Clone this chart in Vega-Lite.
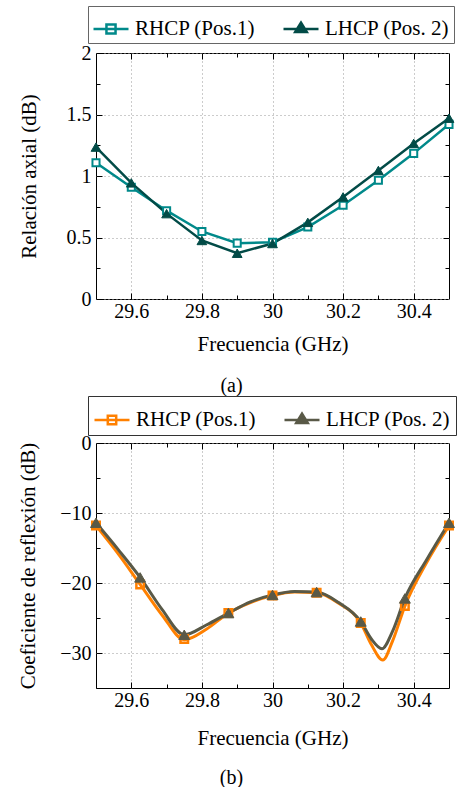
{
  "$schema": "https://vega.github.io/schema/vega-lite/v6.json",
  "padding": {"left": 17, "top": 5, "right": 0, "bottom": 0},
  "background": "white",
  "datasets": {
    "top": [
      {"f": 29.5, "v": 1.107, "s": "RHCP (Pos.1)"},
      {"f": 29.6, "v": 0.908, "s": "RHCP (Pos.1)"},
      {"f": 29.7, "v": 0.718, "s": "RHCP (Pos.1)"},
      {"f": 29.8, "v": 0.549, "s": "RHCP (Pos.1)"},
      {"f": 29.9, "v": 0.454, "s": "RHCP (Pos.1)"},
      {"f": 30.0, "v": 0.462, "s": "RHCP (Pos.1)"},
      {"f": 30.1, "v": 0.585, "s": "RHCP (Pos.1)"},
      {"f": 30.2, "v": 0.762, "s": "RHCP (Pos.1)"},
      {"f": 30.3, "v": 0.966, "s": "RHCP (Pos.1)"},
      {"f": 30.4, "v": 1.184, "s": "RHCP (Pos.1)"},
      {"f": 30.5, "v": 1.42, "s": "RHCP (Pos.1)"},
      {"f": 29.5, "v": 1.235, "s": "LHCP (Pos. 2)"},
      {"f": 29.6, "v": 0.944, "s": "LHCP (Pos. 2)"},
      {"f": 29.7, "v": 0.694, "s": "LHCP (Pos. 2)"},
      {"f": 29.8, "v": 0.476, "s": "LHCP (Pos. 2)"},
      {"f": 29.9, "v": 0.372, "s": "LHCP (Pos. 2)"},
      {"f": 30.0, "v": 0.451, "s": "LHCP (Pos. 2)"},
      {"f": 30.1, "v": 0.623, "s": "LHCP (Pos. 2)"},
      {"f": 30.2, "v": 0.83, "s": "LHCP (Pos. 2)"},
      {"f": 30.3, "v": 1.045, "s": "LHCP (Pos. 2)"},
      {"f": 30.4, "v": 1.265, "s": "LHCP (Pos. 2)"},
      {"f": 30.5, "v": 1.47, "s": "LHCP (Pos. 2)"}
    ],
    "bcurve": [
      {"f": 29.5, "v": -11.8, "s": "RHCP (Pos.1)"},
      {"f": 29.5625, "v": -15.8, "s": "RHCP (Pos.1)"},
      {"f": 29.625, "v": -20.2, "s": "RHCP (Pos.1)"},
      {"f": 29.6875, "v": -24.6, "s": "RHCP (Pos.1)"},
      {"f": 29.75, "v": -28.1, "s": "RHCP (Pos.1)"},
      {"f": 29.8125, "v": -26.6, "s": "RHCP (Pos.1)"},
      {"f": 29.875, "v": -24.3, "s": "RHCP (Pos.1)"},
      {"f": 29.9375, "v": -22.8, "s": "RHCP (Pos.1)"},
      {"f": 30.0, "v": -21.8, "s": "RHCP (Pos.1)"},
      {"f": 30.0625, "v": -21.3, "s": "RHCP (Pos.1)"},
      {"f": 30.125, "v": -21.4, "s": "RHCP (Pos.1)"},
      {"f": 30.1875, "v": -22.9, "s": "RHCP (Pos.1)"},
      {"f": 30.25, "v": -25.7, "s": "RHCP (Pos.1)"},
      {"f": 30.28, "v": -28.8, "s": "RHCP (Pos.1)"},
      {"f": 30.3125, "v": -31.0, "s": "RHCP (Pos.1)"},
      {"f": 30.34, "v": -28.3, "s": "RHCP (Pos.1)"},
      {"f": 30.375, "v": -23.3, "s": "RHCP (Pos.1)"},
      {"f": 30.4375, "v": -17.0, "s": "RHCP (Pos.1)"},
      {"f": 30.5, "v": -11.8, "s": "RHCP (Pos.1)"},
      {"f": 29.5, "v": -11.4, "s": "LHCP (Pos. 2)"},
      {"f": 29.5625, "v": -15.2, "s": "LHCP (Pos. 2)"},
      {"f": 29.625, "v": -19.2, "s": "LHCP (Pos. 2)"},
      {"f": 29.6875, "v": -23.8, "s": "LHCP (Pos. 2)"},
      {"f": 29.75, "v": -27.4, "s": "LHCP (Pos. 2)"},
      {"f": 29.8125, "v": -26.0, "s": "LHCP (Pos. 2)"},
      {"f": 29.875, "v": -24.3, "s": "LHCP (Pos. 2)"},
      {"f": 29.9375, "v": -22.7, "s": "LHCP (Pos. 2)"},
      {"f": 30.0, "v": -21.7, "s": "LHCP (Pos. 2)"},
      {"f": 30.0625, "v": -21.2, "s": "LHCP (Pos. 2)"},
      {"f": 30.125, "v": -21.3, "s": "LHCP (Pos. 2)"},
      {"f": 30.1875, "v": -22.8, "s": "LHCP (Pos. 2)"},
      {"f": 30.25, "v": -25.5, "s": "LHCP (Pos. 2)"},
      {"f": 30.28, "v": -28.0, "s": "LHCP (Pos. 2)"},
      {"f": 30.31, "v": -29.4, "s": "LHCP (Pos. 2)"},
      {"f": 30.34, "v": -26.9, "s": "LHCP (Pos. 2)"},
      {"f": 30.375, "v": -22.2, "s": "LHCP (Pos. 2)"},
      {"f": 30.4375, "v": -16.6, "s": "LHCP (Pos. 2)"},
      {"f": 30.5, "v": -11.4, "s": "LHCP (Pos. 2)"}
    ],
    "bmark": [
      {"f": 29.5, "v": -11.8, "s": "RHCP (Pos.1)"},
      {"f": 29.625, "v": -20.2, "s": "RHCP (Pos.1)"},
      {"f": 29.75, "v": -28.0, "s": "RHCP (Pos.1)"},
      {"f": 29.875, "v": -24.3, "s": "RHCP (Pos.1)"},
      {"f": 30.0, "v": -21.8, "s": "RHCP (Pos.1)"},
      {"f": 30.125, "v": -21.4, "s": "RHCP (Pos.1)"},
      {"f": 30.25, "v": -25.7, "s": "RHCP (Pos.1)"},
      {"f": 30.375, "v": -23.3, "s": "RHCP (Pos.1)"},
      {"f": 30.5, "v": -11.8, "s": "RHCP (Pos.1)"},
      {"f": 29.5, "v": -11.4, "s": "LHCP (Pos. 2)"},
      {"f": 29.625, "v": -19.2, "s": "LHCP (Pos. 2)"},
      {"f": 29.75, "v": -27.4, "s": "LHCP (Pos. 2)"},
      {"f": 29.875, "v": -24.3, "s": "LHCP (Pos. 2)"},
      {"f": 30.0, "v": -21.7, "s": "LHCP (Pos. 2)"},
      {"f": 30.125, "v": -21.3, "s": "LHCP (Pos. 2)"},
      {"f": 30.25, "v": -25.5, "s": "LHCP (Pos. 2)"},
      {"f": 30.375, "v": -22.2, "s": "LHCP (Pos. 2)"},
      {"f": 30.5, "v": -11.4, "s": "LHCP (Pos. 2)"}
    ]
  },
  "spacing": -2,
  "resolve": {"scale": {"color": "independent", "y": "independent"}, "legend": {"color": "independent"}},
  "vconcat": [
    {
      "width": 353,
      "height": 246,
      "title": {"text": "(a)", "orient": "bottom", "anchor": "middle", "frame": "group", "dx": -41, "offset": 22, "font": "Liberation Serif, DejaVu Serif, serif", "fontSize": 20, "fontWeight": "normal"},
      "layer": [
        {
          "data": {"name": "top"},
          "mark": {"type": "line", "strokeWidth": 2.5},
          "encoding": {
            "x": {"field": "f", "type": "quantitative", "scale": {"domain": [29.5, 30.5], "nice": false, "zero": false},
              "axis": {"orient": "bottom", "values": [29.6, 29.7, 29.8, 29.9, 30, 30.1, 30.2, 30.3, 30.4], "format": "~g", "labelPadding": 8,
                "tickSize": {"condition": {"test": "abs(datum.value*5 - round(datum.value*5)) < 0.001", "value": -6}, "value": -4},
                "labelExpr": "abs(datum.value*5 - round(datum.value*5)) < 0.001 ? datum.label : ''",
                "grid": true, "gridDash": [1, 3], "gridColor": "#999",
                "gridOpacity": {"condition": {"test": "abs(datum.value*5 - round(datum.value*5)) < 0.001", "value": 1}, "value": 0},
                "title": "Frecuencia (GHz)", "titlePadding": 10}},
            "y": {"field": "v", "type": "quantitative", "scale": {"domain": [0, 2], "nice": false},
              "axis": {"orient": "left", "values": [0, 0.25, 0.5, 0.75, 1, 1.25, 1.5, 1.75, 2], "format": "~g", "labelPadding": 11,
                "tickSize": {"condition": {"test": "abs(datum.value*2 - round(datum.value*2)) < 0.001", "value": -6}, "value": -4},
                "labelExpr": "abs(datum.value*2 - round(datum.value*2)) < 0.001 ? datum.label : ''",
                "grid": true, "gridDash": [1, 3], "gridColor": "#999",
                "gridOpacity": {"condition": {"test": "abs(datum.value*2 - round(datum.value*2)) < 0.001", "value": 1}, "value": 0},
                "title": "Relación axial (dB)", "titlePadding": 27}},
            "color": {"field": "s", "type": "nominal", "sort": ["RHCP (Pos.1)", "LHCP (Pos. 2)"],
              "scale": {"domain": ["RHCP (Pos.1)", "LHCP (Pos. 2)"], "range": ["#00898A", "#024B47"]},
              "legend": {"orient": "none", "legendX": -8, "legendY": -47, "direction": "horizontal", "columns": 2, "title": null,
                "strokeColor": "#666", "fillColor": "white", "padding": 4, "symbolSize": 1225, "symbolStrokeWidth": 2.5,
                "labelFont": "Liberation Serif, DejaVu Serif, serif", "labelFontSize": 21, "labelOffset": 5, "columnPadding": 22,
                "encode": {"symbols": {"update": {
                  "shape": {"signal": "datum.value === 'RHCP (Pos.1)' ? 'M-1,0H1M-0.26,-0.26H0.26V0.26H-0.26Z' : 'M-1,0H1M-0.33,0.17L0,-0.36L0.33,0.17Z'"},
                  "fill": {"signal": "datum.value === 'RHCP (Pos.1)' ? 'white' : '#024B47'"}}}}}}
          }
        },
        {
          "data": {"name": "top"},
          "transform": [{"filter": "datum.s === 'RHCP (Pos.1)'"}],
          "mark": {"type": "point", "shape": "square", "size": 50, "strokeWidth": 2, "fill": "white", "stroke": "#00898A", "opacity": 1},
          "encoding": {
            "x": {"field": "f", "type": "quantitative",
              "axis": {"orient": "top", "values": [29.6, 29.7, 29.8, 29.9, 30, 30.1, 30.2, 30.3, 30.4], "labels": false, "grid": false, "domain": false, "title": null,
                "tickSize": {"condition": {"test": "abs(datum.value*5 - round(datum.value*5)) < 0.001", "value": -6}, "value": -4}}},
            "y": {"field": "v", "type": "quantitative",
              "axis": {"orient": "right", "values": [0.25, 0.5, 0.75, 1, 1.25, 1.5, 1.75], "labels": false, "grid": false, "domain": false, "title": null,
                "tickSize": {"condition": {"test": "abs(datum.value*2 - round(datum.value*2)) < 0.001", "value": -6}, "value": -4}}}
          }
        },
        {
          "data": {"name": "top"},
          "transform": [{"filter": "datum.s === 'LHCP (Pos. 2)'"}],
          "mark": {"type": "point", "shape": "triangle-up", "size": 95, "strokeWidth": 1, "filled": true, "fill": "#024B47", "stroke": "#024B47", "opacity": 1},
          "encoding": {
            "x": {"field": "f", "type": "quantitative", "axis": null},
            "y": {"field": "v", "type": "quantitative", "axis": null}
          }
        }
      ]
    },
    {
      "width": 353,
      "height": 245,
      "title": {"text": "(b)", "orient": "bottom", "anchor": "middle", "frame": "group", "dx": -41, "offset": 20, "font": "Liberation Serif, DejaVu Serif, serif", "fontSize": 20, "fontWeight": "normal"},
      "layer": [
        {
          "data": {"name": "bcurve"},
          "mark": {"type": "line", "strokeWidth": 3, "interpolate": "monotone"},
          "encoding": {
            "x": {"field": "f", "type": "quantitative", "scale": {"domain": [29.5, 30.5], "nice": false, "zero": false},
              "axis": {"orient": "bottom", "values": [29.6, 29.7, 29.8, 29.9, 30, 30.1, 30.2, 30.3, 30.4], "format": "~g", "labelPadding": 8,
                "tickSize": {"condition": {"test": "abs(datum.value*5 - round(datum.value*5)) < 0.001", "value": -6}, "value": -4},
                "labelExpr": "abs(datum.value*5 - round(datum.value*5)) < 0.001 ? datum.label : ''",
                "grid": true, "gridDash": [1, 3], "gridColor": "#999",
                "gridOpacity": {"condition": {"test": "abs(datum.value*5 - round(datum.value*5)) < 0.001", "value": 1}, "value": 0},
                "title": "Frecuencia (GHz)", "titlePadding": 15}},
            "y": {"field": "v", "type": "quantitative", "scale": {"domain": [-35, 0], "nice": false},
              "axis": {"orient": "left", "values": [-35, -30, -25, -20, -15, -10, -5, 0], "format": "~g", "labelPadding": 11,
                "tickSize": {"condition": {"test": "abs(datum.value/10 - round(datum.value/10)) < 0.001", "value": -6}, "value": -4},
                "labelExpr": "abs(datum.value/10 - round(datum.value/10)) < 0.001 ? datum.label : ''",
                "grid": true, "gridDash": [1, 3], "gridColor": "#999",
                "gridOpacity": {"condition": {"test": "abs(datum.value/10 - round(datum.value/10)) < 0.001", "value": 1}, "value": 0},
                "title": "Coeficiente de reflexión (dB)", "titlePadding": 21}},
            "color": {"field": "s", "type": "nominal", "sort": ["RHCP (Pos.1)", "LHCP (Pos. 2)"],
              "scale": {"domain": ["RHCP (Pos.1)", "LHCP (Pos. 2)"], "range": ["#FF8000", "#595947"]},
              "legend": {"orient": "none", "legendX": -8, "legendY": -47, "direction": "horizontal", "columns": 2, "title": null,
                "strokeColor": "#333", "fillColor": "white", "padding": 5, "symbolSize": 1225, "symbolStrokeWidth": 2.5,
                "labelFont": "Liberation Serif, DejaVu Serif, serif", "labelFontSize": 21, "labelOffset": 5, "columnPadding": 22,
                "encode": {"symbols": {"update": {
                  "shape": {"signal": "datum.value === 'RHCP (Pos.1)' ? 'M-1,0H1M-0.24,-0.24H0.24V0.24H-0.24Z' : 'M-1,0H1M-0.33,0.17L0,-0.36L0.33,0.17Z'"},
                  "fill": {"signal": "datum.value === 'RHCP (Pos.1)' ? 'transparent' : '#595947'"}}}}}}
          }
        },
        {
          "data": {"name": "bmark"},
          "transform": [{"filter": "datum.s === 'RHCP (Pos.1)'"}],
          "mark": {"type": "point", "shape": "square", "size": 56, "strokeWidth": 2.5, "fill": "transparent", "stroke": "#FF8000", "opacity": 1},
          "encoding": {
            "x": {"field": "f", "type": "quantitative",
              "axis": {"orient": "top", "values": [29.6, 29.7, 29.8, 29.9, 30, 30.1, 30.2, 30.3, 30.4], "labels": false, "grid": false, "domain": false, "title": null,
                "tickSize": {"condition": {"test": "abs(datum.value*5 - round(datum.value*5)) < 0.001", "value": -6}, "value": -4}}},
            "y": {"field": "v", "type": "quantitative",
              "axis": {"orient": "right", "values": [-30, -25, -20, -15, -10, -5], "labels": false, "grid": false, "domain": false, "title": null,
                "tickSize": {"condition": {"test": "abs(datum.value/10 - round(datum.value/10)) < 0.001", "value": -6}, "value": -4}}}
          }
        },
        {
          "data": {"name": "bmark"},
          "transform": [{"filter": "datum.s === 'LHCP (Pos. 2)'"}],
          "mark": {"type": "point", "shape": "triangle-up", "size": 120, "strokeWidth": 1, "filled": true, "fill": "#595947", "stroke": "#595947", "opacity": 1},
          "encoding": {
            "x": {"field": "f", "type": "quantitative", "axis": null},
            "y": {"field": "v", "type": "quantitative", "axis": null}
          }
        }
      ]
    }
  ],
  "config": {
    "view": {"stroke": "black", "strokeWidth": 1},
    "font": "Liberation Serif, DejaVu Serif, serif",
    "axis": {"labelFont": "Liberation Serif, DejaVu Serif, serif", "labelFontSize": 20, "labelColor": "black", "titleFont": "Liberation Serif, DejaVu Serif, serif", "titleFontSize": 21, "titleFontWeight": "normal", "titleColor": "black", "tickColor": "black", "tickWidth": 1, "domain": false, "labelFlush": false, "labelOverlap": false},
    "legend": {"labelColor": "black"}
  }
}
